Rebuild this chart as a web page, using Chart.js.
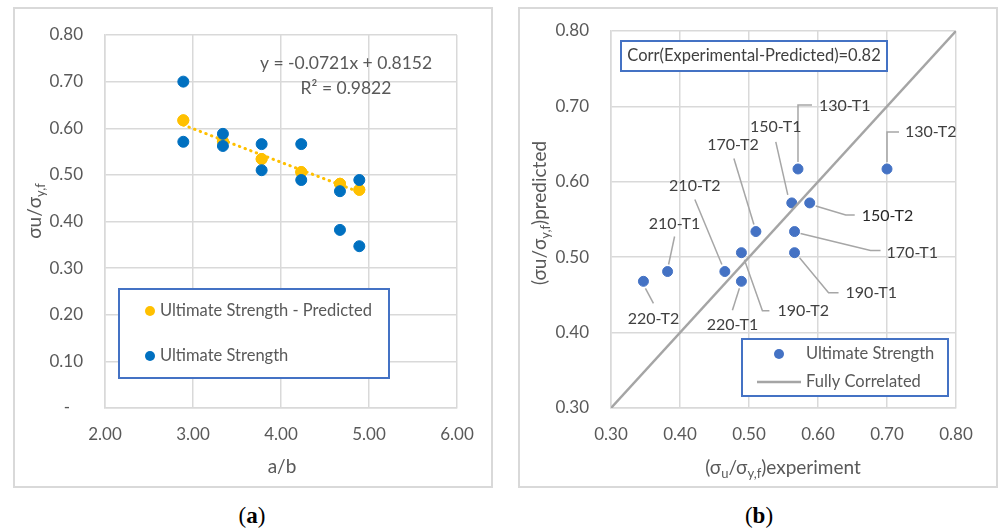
<!DOCTYPE html>
<html>
<head>
<meta charset="utf-8">
<script src="https://cdn.jsdelivr.net/npm/chart.js@4.4.1/dist/chart.umd.min.js"></script>
<style>
body{margin:0;background:#fff;width:998px;height:532px;position:relative;overflow:hidden;font-family:Lato,sans-serif}
.box{position:absolute;top:8px;width:478px;height:479px}
.frame{position:absolute;top:7px;width:480px;height:481px;border:2px solid #d9d9d9;box-sizing:border-box;pointer-events:none}
.cap{position:absolute;top:503px;width:120px;text-align:center;font-family:'Liberation Serif',serif;font-size:23px;color:#000}
</style>
</head>
<body>
<div class="box" style="left:14px"><canvas id="chartA"></canvas></div>
<div class="frame" style="left:13px"></div>
<div class="box" style="left:519px"><canvas id="chartB"></canvas></div>
<div class="frame" style="left:518px"></div>
<div class="cap" style="left:192px">(<b>a</b>)</div>
<div class="cap" style="left:699px">(<b>b</b>)</div>
<script>
// data
var specimens = ['130-T1', '130-T2', '150-T1', '150-T2', '170-T1', '170-T2', '190-T1', '190-T2', '210-T1', '210-T2', '220-T1', '220-T2'];
var aspectRatio = [2.89, 2.89, 3.34, 3.34, 3.78, 3.78, 4.23, 4.23, 4.67, 4.67, 4.89, 4.89];
var experimental = [0.571, 0.700, 0.562, 0.588, 0.566, 0.510, 0.566, 0.489, 0.382, 0.465, 0.489, 0.347];
var predicted = [0.617, 0.617, 0.572, 0.572, 0.534, 0.534, 0.506, 0.506, 0.481, 0.481, 0.468, 0.468];
var trendX = [2.89, 4.89];
var trendY = [0.607, 0.463];
var fullX = [0.30, 0.80];
var fullY = [0.30, 0.80];
var xTicksA = [2, 3, 4, 5, 6];
var yTicksA = [0, 0.1, 0.2, 0.3, 0.4, 0.5, 0.6, 0.7, 0.8];
var ticksB = [0.3, 0.4, 0.5, 0.6, 0.7, 0.8];

// label placement for panel (b): leader line points and text offset from the marker
var labelLayout = {
  '130-T1': {line: [[0, -7], [0, -64], [14, -64]], text: [21, -63, 'left']},
  '130-T2': {line: [[0, -7], [0, -37], [12, -37]], text: [18, -37, 'left']},
  '150-T1': {line: [[-4, -8], [-16, -61]], text: [-16, -76, 'center']},
  '150-T2': {line: [[6, 3], [36, 12], [45, 12]], text: [52, 13, 'left'], dark: true},
  '170-T1': {line: [[6, 2], [76, 19], [86, 19]], text: [92, 21, 'left']},
  '170-T2': {line: [[-2, -7], [-22, -73]], text: [-23, -87, 'center']},
  '190-T1': {line: [[5, 5], [34, 40], [44, 40]], text: [51, 40, 'left']},
  '190-T2': {line: [[3, 7], [21, 58], [28, 58]], text: [36, 58, 'left']},
  '210-T1': {line: [[1, -7], [7, -35]], text: [7, -48, 'center']},
  '210-T2': {line: [[-3, -7], [-30, -72]], text: [-30, -86, 'center']},
  '220-T1': {line: [[-2, 7], [-9, 29]], text: [-9, 44, 'center']},
  '220-T2': {line: [[2, 7], [10, 22]], text: [10, 38, 'center']}
};

Chart.defaults.font.family = 'Lato';
Chart.defaults.color = '#595959';

function pts(xs, ys) {
  return xs.map(function (x, i) { return {x: x, y: ys[i]}; });
}

function drawRich(ctx, parts, x, y, rotate) {
  ctx.save();
  ctx.translate(x, y);
  if (rotate) ctx.rotate(-Math.PI / 2);
  var w = 0;
  parts.forEach(function (p) {
    ctx.font = (p[1] ? '13px' : '19px') + ' Lato';
    w += ctx.measureText(p[0]).width;
  });
  var cx = -w / 2;
  ctx.fillStyle = '#595959';
  ctx.textBaseline = 'middle';
  ctx.textAlign = 'left';
  parts.forEach(function (p) {
    ctx.font = (p[1] ? '13px' : '19px') + ' Lato';
    ctx.fillText(p[0], cx, p[1] ? 6 : 0);
    cx += ctx.measureText(p[0]).width;
  });
  ctx.restore();
}

function boxRect(ctx, x1, y1, x2, y2) {
  ctx.save();
  ctx.fillStyle = '#fff';
  ctx.fillRect(x1, y1, x2 - x1, y2 - y1);
  ctx.strokeStyle = '#4472C4';
  ctx.lineWidth = 2;
  ctx.strokeRect(x1, y1, x2 - x1, y2 - y1);
  ctx.restore();
}

function dot(ctx, x, y, r, c) {
  ctx.beginPath();
  ctx.arc(x, y, r, 0, Math.PI * 2);
  ctx.fillStyle = c;
  ctx.fill();
}

function scaleOpts(min, max, tickList, width, height, pad, zeroDash) {
  return {
    type: 'linear', min: min, max: max,
    afterBuildTicks: function (s) { s.ticks = tickList.map(function (v) { return {value: v}; }); },
    afterFit: function (s) {
      if (width) s.width = width;
      if (height) s.height = height;
      s.paddingLeft = 0; s.paddingRight = 0; s.paddingTop = 0; s.paddingBottom = 0;
    },
    grid: {color: '#d9d9d9', lineWidth: 1.5, drawTicks: false},
    border: {color: '#d9d9d9', width: 1.5},
    ticks: {
      padding: pad, font: {size: 17}, color: '#595959',
      callback: function (v) {
        if (zeroDash && Math.abs(v) < 1e-9) return '-   ';
        return Number(v).toFixed(2);
      }
    }
  };
}

var panelA = {
  id: 'panelA',
  afterDraw: function (chart) {
    var ctx = chart.ctx;
    ctx.save();
    ctx.fillStyle = '#595959';
    ctx.font = '17.5px Lato';
    ctx.textAlign = 'center';
    ctx.textBaseline = 'middle';
    ctx.fillText('y = -0.0721x + 0.8152', 332, 55);
    ctx.fillText('R\u00b2 = 0.9822', 332, 80);
    boxRect(ctx, 105, 281, 375, 370);
    dot(ctx, 136, 303, 5, '#FFC000');
    dot(ctx, 136, 348, 5, '#0070C0');
    ctx.fillStyle = '#595959';
    ctx.font = '16.5px Lato';
    ctx.textAlign = 'left';
    ctx.fillText('Ultimate Strength - Predicted', 146, 303);
    ctx.fillText('Ultimate Strength', 146, 348);
    ctx.restore();
    drawRich(ctx, [['a/b']], 268, 459, false);
    drawRich(ctx, [['\u03c3u/\u03c3'], ['y,f', 1]], 21, 203, true);
  }
};

var panelB = {
  id: 'panelB',
  afterDraw: function (chart) {
    var ctx = chart.ctx;
    var meta = chart.getDatasetMeta(1);
    ctx.save();
    ctx.strokeStyle = '#a6a6a6';
    ctx.lineWidth = 1.5;
    ctx.font = '16px Lato';
    ctx.textBaseline = 'middle';
    specimens.forEach(function (name, i) {
      var el = meta.data[i];
      var lay = labelLayout[name];
      ctx.beginPath();
      lay.line.forEach(function (p, k) {
        if (k === 0) ctx.moveTo(el.x + p[0], el.y + p[1]);
        else ctx.lineTo(el.x + p[0], el.y + p[1]);
      });
      ctx.stroke();
      ctx.fillStyle = lay.dark ? '#262626' : '#404040';
      ctx.textAlign = lay.text[2];
      ctx.fillText(name, el.x + lay.text[0], el.y + lay.text[1]);
    });
    boxRect(ctx, 102, 33, 368, 63);
    ctx.fillStyle = '#404040';
    ctx.font = '16.5px Lato';
    ctx.textAlign = 'center';
    ctx.fillText('Corr(Experimental-Predicted)=0.82', 235, 48);
    boxRect(ctx, 223, 331, 429, 388);
    dot(ctx, 260, 346, 5, '#4472C4');
    ctx.strokeStyle = '#a5a5a5';
    ctx.lineWidth = 2.5;
    ctx.beginPath();
    ctx.moveTo(238, 374);
    ctx.lineTo(282, 374);
    ctx.stroke();
    ctx.fillStyle = '#595959';
    ctx.textAlign = 'left';
    ctx.fillText('Ultimate Strength', 287, 346);
    ctx.fillText('Fully Correlated', 287, 374);
    ctx.restore();
    drawRich(ctx, [['(\u03c3'], ['u', 1], ['/\u03c3'], ['y,f', 1], [')experiment']], 264, 460, false);
    drawRich(ctx, [['(\u03c3u/\u03c3'], ['y,f', 1], [')predicted']], 21, 205, true);
  }
};

new Chart(document.getElementById('chartA'), {
  type: 'scatter',
  data: {
    datasets: [
      {label: 'Ultimate Strength', data: pts(aspectRatio, experimental), backgroundColor: '#0070C0', borderColor: '#0070C0', pointRadius: 5.5, pointHoverRadius: 5.5},
      {label: 'Ultimate Strength - Predicted', data: pts(aspectRatio, predicted), backgroundColor: '#FFC000', borderColor: '#FFC000', pointRadius: 5.5, pointHoverRadius: 5.5},
      {label: 'Trend', data: pts(trendX, trendY), showLine: true, borderColor: '#FFC000', borderWidth: 3, borderDash: [0.5, 5.5], borderCapStyle: 'round', pointRadius: 0}
    ]
  },
  options: {
    animation: false, responsive: true, maintainAspectRatio: false, devicePixelRatio: 1,
    layout: {padding: {top: 27, right: 35, left: 0, bottom: 0}},
    plugins: {legend: {display: false}, tooltip: {enabled: false}},
    scales: {
      x: scaleOpts(2, 6, xTicksA, 0, 79, 16, false),
      y: scaleOpts(0, 0.8, yTicksA, 91, 0, 22, true)
    }
  },
  plugins: [panelA]
});

new Chart(document.getElementById('chartB'), {
  type: 'scatter',
  data: {
    datasets: [
      {label: 'Fully Correlated', data: pts(fullX, fullY), showLine: true, borderColor: '#a5a5a5', borderWidth: 2.5, pointRadius: 0},
      {label: 'Ultimate Strength', data: pts(experimental, predicted), backgroundColor: '#4472C4', borderColor: '#4472C4', pointRadius: 5, pointHoverRadius: 5}
    ]
  },
  options: {
    animation: false, responsive: true, maintainAspectRatio: false, devicePixelRatio: 1,
    layout: {padding: {top: 23, right: 41, left: 0, bottom: 0}},
    plugins: {legend: {display: false}, tooltip: {enabled: false}},
    scales: {
      x: scaleOpts(0.3, 0.8, ticksB, 0, 79, 16, false),
      y: scaleOpts(0.3, 0.8, ticksB, 92, 0, 22, false)
    }
  },
  plugins: [panelB]
});
</script>
</body>
</html>
